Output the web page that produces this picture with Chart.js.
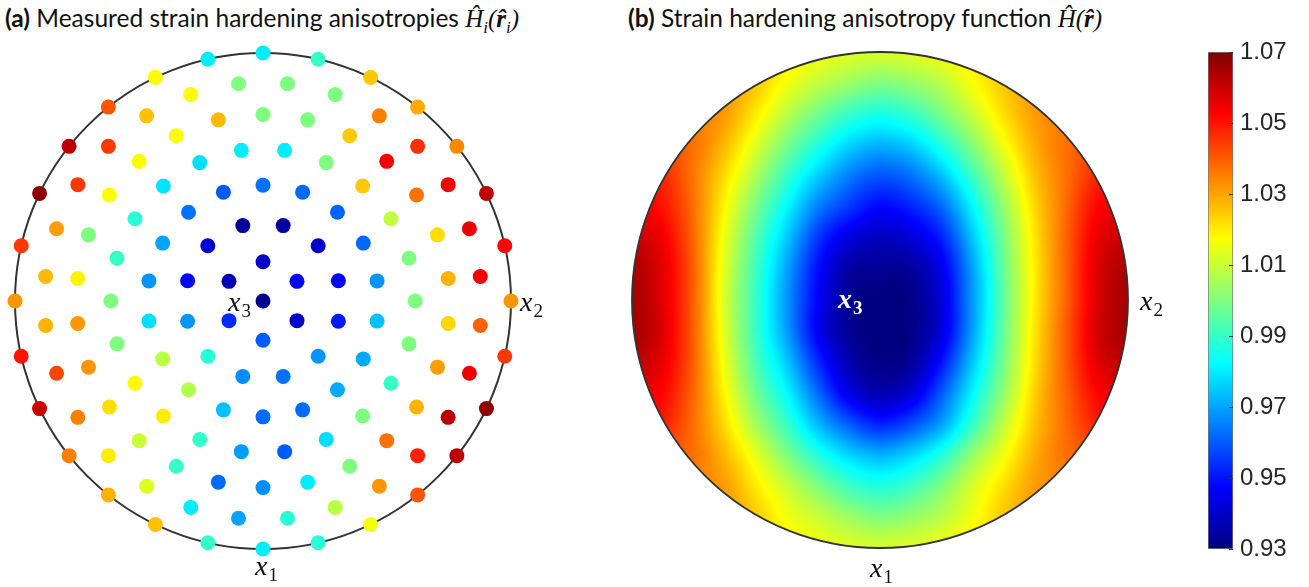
<!DOCTYPE html>
<html>
<head>
<meta charset="utf-8">
<script src="https://cdn.jsdelivr.net/npm/chart.js@4.4.1/dist/chart.umd.min.js"></script>
<style>
  body { margin: 0; background: #fff; width: 1309px; height: 587px; position: relative; overflow: hidden; }
  .titulo { position: absolute; top: 3px; font-family: Lato, sans-serif; font-size: 24.5px; color: #111; white-space: nowrap; }
  .mat { font-family: 'Liberation Serif', serif; font-style: italic; font-size: 25px; }
  .mat sub { font-size: 17px; }
  canvas { position: absolute; }
</style>
</head>
<body>
<div class="titulo" style="left:5px"><b>(a)</b> Measured strain hardening anisotropies <span class="mat">H&#770;<sub>i</sub>(<b>r&#770;</b><sub>i</sub>)</span></div>
<div class="titulo" style="left:628px"><b>(b)</b> Strain hardening anisotropy function <span class="mat">H&#770;(<b>r&#770;</b>)</span></div>
<canvas id="graficoA" width="560" height="547" style="left:0;top:40px"></canvas>
<canvas id="graficoB" width="600" height="547" style="left:600px;top:40px"></canvas>
<canvas id="graficoC" width="109" height="587" style="left:1200px;top:0"></canvas>
<script>
// direcoes medidas: aneis de inclinacao (graus), pontos igualmente espacados no azimute
const inclinacao = [0, 12.857, 25.714, 38.571, 51.429, 64.286, 77.143, 90]
const meioPasso = [0, 1, 1, 1, 0, 1, 1, 0]

// H_i medido em cada anel, a partir do eixo x2, sentido anti-horario
const anel0 = [0.932]
const anel1 = [0.946, 0.940, 0.937, 0.953, 0.960, 0.940]
const anel2 = [0.948, 0.940, 0.935, 0.934, 0.941, 0.948, 0.968, 0.988, 0.967, 0.963, 0.968, 0.951]
const anel3 = [0.968, 0.962, 0.961, 0.962, 0.963, 0.960, 0.963, 0.970, 0.968, 0.978, 1.008, 1.007, 0.974, 0.962, 0.962, 0.971, 0.971, 0.974]
const anel4 = [1.000, 1.000, 1.009, 1.025, 1.000, 0.980, 0.980, 0.978, 0.979, 0.988, 0.990, 1.000, 1.000, 1.018, 1.020, 0.990, 0.969, 0.960, 0.978, 1.000, 0.990, 1.000]
const anel5 = [1.028, 1.022, 1.037, 1.054, 1.025, 1.000, 1.000, 1.027, 1.017, 1.018, 1.018, 1.000, 1.019, 1.032, 1.032, 1.022, 1.010, 0.990, 0.962, 0.967, 0.980, 1.000, 1.037, 1.028, 1.031, 1.023]
const anel6 = [1.054, 1.055, 1.054, 1.046, 1.035, 1.000, 1.000, 1.000, 1.018, 1.026, 1.045, 1.045, 1.031, 1.027, 1.028, 1.043, 1.035, 1.020, 1.013, 0.980, 0.970, 0.988, 1.008, 1.032, 1.048, 1.062, 1.055, 1.039]
const anel7 = [1.032, 1.052, 1.061, 1.034, 1.029, 1.025, 0.990, 0.980, 0.980, 1.018, 1.041, 1.062, 1.068, 1.045, 1.032, 1.050, 1.060, 1.035, 1.028, 1.026, 0.990, 0.980, 0.988, 1.016, 1.041, 1.062, 1.068, 1.045]
const aneis = [anel0, anel1, anel2, anel3, anel4, anel5, anel6, anel7]

// funcao H(r) em grade regular na projecao (x2 da esquerda p/ direita, linhas de cima p/ baixo)
const eixoCampo = [-1, -0.875, -0.75, -0.625, -0.5, -0.375, -0.25, -0.125, 0, 0.125, 0.25, 0.375, 0.5, 0.625, 0.75, 0.875, 1]
const campo = [
  [1.031, 1.031, 1.031, 1.031, 1.025, 1.020, 1.016, 1.013, 1.012, 1.013, 1.016, 1.020, 1.025, 1.031, 1.031, 1.031, 1.031],
  [1.033, 1.033, 1.033, 1.031, 1.025, 1.016, 1.009, 1.004, 1.000, 1.003, 1.008, 1.017, 1.025, 1.031, 1.033, 1.033, 1.033],
  [1.035, 1.035, 1.035, 1.031, 1.020, 1.008, 0.998, 0.990, 0.986, 0.990, 0.999, 1.010, 1.022, 1.031, 1.035, 1.035, 1.035],
  [1.041, 1.041, 1.037, 1.027, 1.013, 0.999, 0.987, 0.977, 0.972, 0.976, 0.987, 1.001, 1.016, 1.029, 1.037, 1.041, 1.041],
  [1.048, 1.047, 1.036, 1.022, 1.006, 0.990, 0.976, 0.965, 0.959, 0.963, 0.974, 0.991, 1.009, 1.026, 1.037, 1.047, 1.048],
  [1.055, 1.050, 1.037, 1.018, 0.999, 0.982, 0.965, 0.955, 0.948, 0.952, 0.962, 0.982, 1.003, 1.023, 1.038, 1.052, 1.055],
  [1.060, 1.054, 1.038, 1.015, 0.994, 0.975, 0.955, 0.943, 0.939, 0.942, 0.952, 0.975, 0.999, 1.021, 1.039, 1.055, 1.060],
  [1.064, 1.056, 1.039, 1.013, 0.991, 0.970, 0.949, 0.935, 0.933, 0.934, 0.945, 0.970, 0.997, 1.020, 1.039, 1.057, 1.064],
  [1.065, 1.056, 1.039, 1.012, 0.990, 0.968, 0.947, 0.933, 0.930, 0.931, 0.943, 0.969, 0.996, 1.020, 1.039, 1.057, 1.065],
  [1.065, 1.057, 1.039, 1.013, 0.990, 0.969, 0.946, 0.933, 0.930, 0.931, 0.943, 0.970, 0.997, 1.021, 1.040, 1.058, 1.065],
  [1.062, 1.055, 1.039, 1.015, 0.993, 0.975, 0.953, 0.937, 0.931, 0.934, 0.950, 0.975, 0.999, 1.022, 1.040, 1.056, 1.062],
  [1.056, 1.052, 1.038, 1.018, 0.998, 0.982, 0.962, 0.944, 0.937, 0.942, 0.960, 0.982, 1.003, 1.024, 1.039, 1.052, 1.056],
  [1.050, 1.048, 1.037, 1.022, 1.005, 0.990, 0.973, 0.960, 0.952, 0.958, 0.970, 0.990, 1.009, 1.026, 1.038, 1.048, 1.050],
  [1.040, 1.040, 1.037, 1.027, 1.014, 1.000, 0.987, 0.977, 0.972, 0.977, 0.987, 1.003, 1.016, 1.029, 1.037, 1.040, 1.040],
  [1.034, 1.034, 1.034, 1.031, 1.020, 1.010, 1.000, 0.991, 0.987, 0.991, 1.000, 1.012, 1.022, 1.031, 1.034, 1.034, 1.034],
  [1.033, 1.033, 1.033, 1.031, 1.025, 1.016, 1.010, 1.004, 1.000, 1.003, 1.008, 1.016, 1.025, 1.031, 1.033, 1.033, 1.033],
  [1.031, 1.031, 1.031, 1.031, 1.025, 1.020, 1.016, 1.013, 1.012, 1.013, 1.016, 1.020, 1.025, 1.031, 1.031, 1.031, 1.031]
]

const escalaMin = 0.93
const escalaMax = 1.07
const rotulosBarra = [0.93, 0.95, 0.97, 0.99, 1.01, 1.03, 1.05, 1.07]

function jetRGB(v) {
    let t = (v - escalaMin) / (escalaMax - escalaMin)
    t = Math.min(1, Math.max(0, t))
    const f = c => Math.round(255 * Math.min(1, Math.max(0, 1.5 - Math.abs(4 * t - c))))
    return [f(3), f(2), f(1)]
}
function jet(v) {
    const c = jetRGB(v)
    return 'rgb(' + c[0] + ',' + c[1] + ',' + c[2] + ')'
}

// projecao de igual area: raio = sqrt(2) sin(theta/2)
const pontos = []
aneis.forEach((valores, k) => {
    const raio = Math.SQRT2 * Math.sin(inclinacao[k] * Math.PI / 360)
    const n = valores.length
    valores.forEach((v, j) => {
        const fi = (j + meioPasso[k] / 2) * 2 * Math.PI / n
        pontos.push({ x: raio * Math.cos(fi), y: raio * Math.sin(fi), v: v })
    })
})

function cubica(p0, p1, p2, p3, t) {
    return p1 + 0.5 * t * (p2 - p0 + t * (2 * p0 - 5 * p1 + 4 * p2 - p3 + t * (3 * (p1 - p2) + p3 - p0)))
}
function valorCampo(X, Y) {
    const passo = eixoCampo[1] - eixoCampo[0]
    const ultimo = eixoCampo.length - 1
    const lim = i => Math.min(ultimo, Math.max(0, i))
    const gx = (X - eixoCampo[0]) / passo
    const gy = (eixoCampo[ultimo] - Y) / passo
    const i = Math.floor(gx), j = Math.floor(gy)
    const tx = gx - i, ty = gy - j
    const col = []
    for (let m = -1; m <= 2; m++) {
        const lin = campo[lim(j + m)]
        col.push(cubica(lin[lim(i - 1)], lin[lim(i)], lin[lim(i + 1)], lin[lim(i + 2)], tx))
    }
    return cubica(col[0], col[1], col[2], col[3], ty)
}

function centroRaio(chart) {
    const xs = chart.scales.x, ys = chart.scales.y
    const cx = xs.getPixelForValue(0), cy = ys.getPixelForValue(0)
    return { cx: cx, cy: cy, r: xs.getPixelForValue(1) - cx }
}

function escreveEixo(ctx, x, y, sub, cor, negrito) {
    ctx.fillStyle = cor
    ctx.textBaseline = 'alphabetic'
    ctx.textAlign = 'left'
    ctx.font = (negrito ? 'italic bold ' : 'italic ') + '28px "Liberation Serif"'
    ctx.fillText('x', x, y)
    const w = ctx.measureText('x').width
    ctx.font = (negrito ? 'bold ' : '') + '19px "Liberation Serif"'
    ctx.fillText(sub, x + w + 1, y + 6)
}

const contorno = {
    id: 'contorno',
    beforeDatasetsDraw(chart) {
        const { cx, cy, r } = centroRaio(chart)
        const ctx = chart.ctx
        ctx.save()
        ctx.beginPath()
        ctx.arc(cx, cy, r, 0, 2 * Math.PI)
        ctx.lineWidth = 2
        ctx.strokeStyle = '#333'
        ctx.stroke()
        ctx.restore()
    },
    afterDraw(chart) {
        const { cx, cy, r } = centroRaio(chart)
        const ctx = chart.ctx
        escreveEixo(ctx, cx - 35, cy + 10, '3', '#111', false)
        escreveEixo(ctx, cx + r + 9, cy + 10, '2', '#111', false)
        escreveEixo(ctx, cx - 8, cy + r + 26, '1', '#111', false)
    }
}

let imagemCampo = null
const mapaCampo = {
    id: 'mapaCampo',
    beforeDatasetsDraw(chart) {
        const { cx, cy, r } = centroRaio(chart)
        const xs = chart.scales.x, ys = chart.scales.y
        const x0 = Math.floor(cx - r) - 1, y0 = Math.floor(cy - r) - 1
        const lado = Math.ceil(2 * r) + 3
        if (!imagemCampo) {
            imagemCampo = document.createElement('canvas')
            imagemCampo.width = lado
            imagemCampo.height = lado
            const c2 = imagemCampo.getContext('2d')
            const img = c2.createImageData(lado, lado)
            for (let py = 0; py < lado; py++) {
                const Y = ys.getValueForPixel(y0 + py + 0.5)
                for (let px = 0; px < lado; px++) {
                    const X = xs.getValueForPixel(x0 + px + 0.5)
                    if (X * X + Y * Y > 1.03) continue
                    const cor = jetRGB(valorCampo(X, Y))
                    const k = 4 * (py * lado + px)
                    img.data[k] = cor[0]
                    img.data[k + 1] = cor[1]
                    img.data[k + 2] = cor[2]
                    img.data[k + 3] = 255
                }
            }
            c2.putImageData(img, 0, 0)
        }
        const ctx = chart.ctx
        ctx.save()
        ctx.beginPath()
        ctx.arc(cx, cy, r, 0, 2 * Math.PI)
        ctx.clip()
        ctx.drawImage(imagemCampo, x0, y0)
        ctx.restore()
        ctx.save()
        ctx.beginPath()
        ctx.arc(cx, cy, r, 0, 2 * Math.PI)
        ctx.lineWidth = 1.8
        ctx.strokeStyle = '#333'
        ctx.stroke()
        ctx.restore()
    },
    afterDraw(chart) {
        const { cx, cy, r } = centroRaio(chart)
        const ctx = chart.ctx
        escreveEixo(ctx, cx - 42, cy + 8, '3', '#fff', true)
        escreveEixo(ctx, cx + r + 12, cy + 10, '2', '#111', false)
        escreveEixo(ctx, cx - 10, cy + r + 29, '1', '#111', false)
    }
}

const escalasDisco = {
    x: { type: 'linear', min: -1, max: 1, display: false },
    y: { type: 'linear', min: -1, max: 1, display: false }
}
const semInteracao = { legend: { display: false }, tooltip: { enabled: false } }

const graficoA = new Chart(document.getElementById('graficoA'), {
    type: 'scatter',
    data: {
        datasets: [{
            data: pontos,
            pointRadius: 7.5,
            pointHoverRadius: 7.5,
            pointBorderWidth: 0,
            pointBorderColor: 'rgba(0,0,0,0)',
            pointBackgroundColor: c => c.raw ? jet(c.raw.v) : '#000',
            clip: false
        }]
    },
    options: {
        responsive: false,
        animation: false,
        events: [],
        layout: { padding: { left: 15, top: 13, right: 49, bottom: 38 } },
        scales: escalasDisco,
        plugins: semInteracao
    },
    plugins: [contorno]
})

const graficoB = new Chart(document.getElementById('graficoB'), {
    type: 'scatter',
    data: { datasets: [{ data: [] }] },
    options: {
        responsive: false,
        animation: false,
        events: [],
        layout: { padding: { left: 32, top: 12, right: 72, bottom: 39 } },
        scales: escalasDisco,
        plugins: semInteracao
    },
    plugins: [mapaCampo]
})

function gradienteJet(chart) {
    const area = chart.chartArea
    if (!area) return null
    const g = chart.ctx.createLinearGradient(0, area.bottom, 0, area.top)
    const paradas = [0, 0.125, 0.375, 0.625, 0.875, 1]
    paradas.forEach(p => g.addColorStop(p, jet(escalaMin + p * (escalaMax - escalaMin))))
    return g
}

const marcasBarra = {
    id: 'marcasBarra',
    afterDatasetsDraw(chart) {
        const ctx = chart.ctx
        const area = chart.chartArea
        const ys = chart.scales.y
        ctx.save()
        ctx.strokeStyle = '#333'
        ctx.lineWidth = 1
        rotulosBarra.forEach(v => {
            const y = Math.round(ys.getPixelForValue(v)) + 0.5
            ctx.beginPath()
            ctx.moveTo(area.right - 4, y)
            ctx.lineTo(area.right, y)
            ctx.stroke()
        })
        ctx.restore()
    }
}

const graficoC = new Chart(document.getElementById('graficoC'), {
    type: 'bar',
    data: {
        labels: [''],
        datasets: [{
            data: [[escalaMin, escalaMax]],
            backgroundColor: c => gradienteJet(c.chart),
            borderColor: '#777',
            borderWidth: 1,
            borderSkipped: false,
            barPercentage: 1,
            categoryPercentage: 1
        }]
    },
    options: {
        responsive: false,
        animation: false,
        events: [],
        layout: { padding: { left: 8, top: 52, right: 4, bottom: 38 } },
        scales: {
            x: { display: false },
            y: {
                position: 'right',
                min: escalaMin,
                max: escalaMax,
                border: { display: false },
                grid: { display: false, drawTicks: false },
                afterBuildTicks: s => { s.ticks = rotulosBarra.map(v => ({ value: v })) },
                afterFit: s => { s.width = 72 },
                ticks: {
                    padding: 7,
                    color: '#262626',
                    font: { family: 'Liberation Sans', size: 24 },
                    callback: v => v.toFixed(2)
                }
            }
        },
        plugins: semInteracao
    },
    plugins: [marcasBarra]
})
</script>
</body>
</html>
